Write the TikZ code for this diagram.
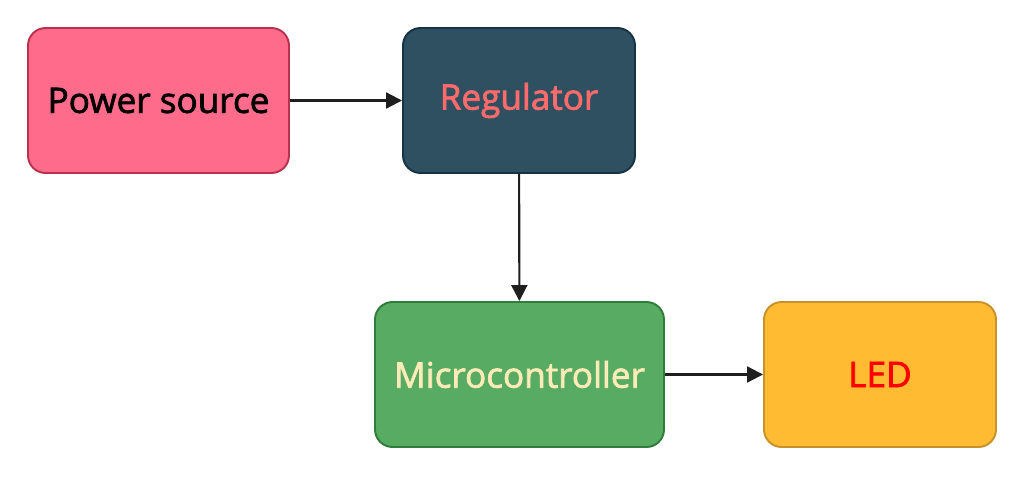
\documentclass[tikz,border=0pt]{standalone}
\usepackage{fontspec}
\setmainfont{Open Sans}
\newfontfamily\blockfont{Open Sans}[FakeBold=2]
\usetikzlibrary{arrows.meta}
\definecolor{pwrfill}{HTML}{FF6B8B}
\definecolor{pwrline}{HTML}{B8324F}
\definecolor{regfill}{HTML}{2F5061}
\definecolor{regline}{HTML}{163245}
\definecolor{regtext}{HTML}{FF6B6B}
\definecolor{mcufill}{HTML}{57AB63}
\definecolor{mculine}{HTML}{2E7D3A}
\definecolor{mcutext}{HTML}{FFEBB8}
\definecolor{ledfill}{HTML}{FFBC33}
\definecolor{ledline}{HTML}{C8912A}
\tikzset{
	block/.style={draw, line width=1.1pt, rounded corners=10pt, minimum height=145*0.02cm, align=center, font=\blockfont\fontsize{20}{24}\selectfont},
	flow/.style={-{Triangle[length=9pt,width=9pt]}, line width=1.2pt, draw=black!88}
}
\begin{document}
\begin{tikzpicture}[x=0.02cm, y=-0.02cm]
	\useasboundingbox (0,0) rectangle (1024,477);
	% blocs
	\node[block, fill=pwrfill, draw=pwrline, minimum width=261*0.02cm] (power) at (158.5,100.5) {Power source};
	\node[block, fill=regfill, draw=regline, text=regtext, minimum width=232*0.02cm] (reg) at (519,100.5) {Regulator};
	\node[block, fill=mcufill, draw=mculine, text=mcutext, minimum width=289*0.02cm] (mcu) at (519.5,374.5) {Microcontroller};
	\node[block, fill=ledfill, draw=ledline, text=red, minimum width=232*0.02cm] (led) at (880,374.5) {LED};
	% liaisons
	\draw[flow] (power) -- (reg);
	\draw[flow] (reg) -- (mcu);
	\draw[flow] (mcu) -- (led);
\end{tikzpicture}
\end{document}
